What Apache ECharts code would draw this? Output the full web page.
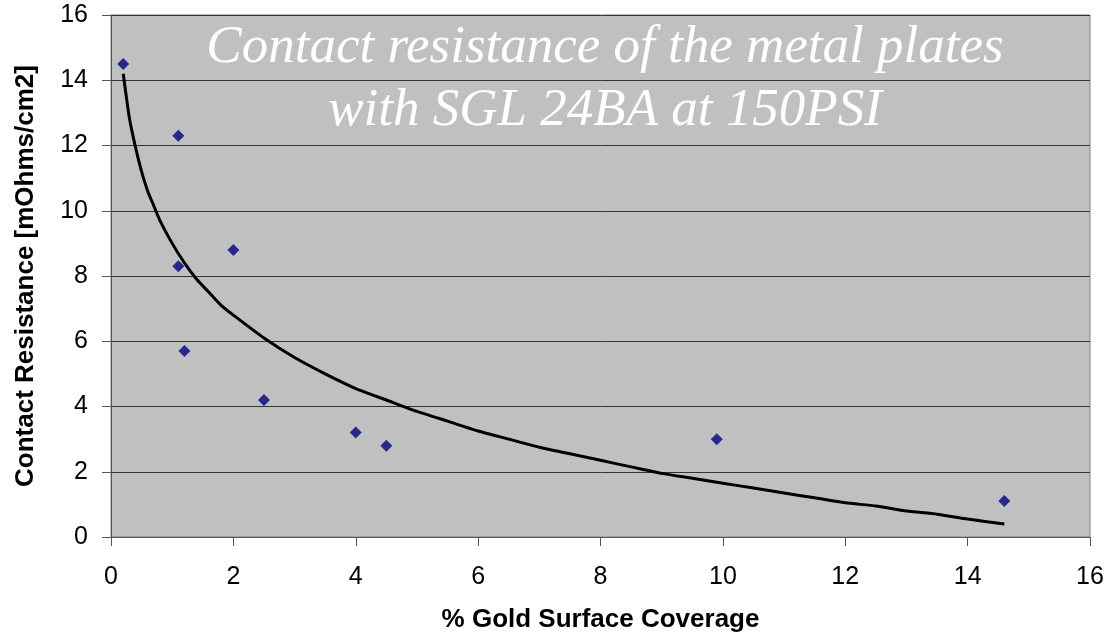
<!DOCTYPE html>
<html>
<head>
<meta charset="utf-8">
<script src="https://cdn.jsdelivr.net/npm/echarts@6/dist/echarts.min.js"></script>
<style>
  html, body { margin: 0; padding: 0; background: #fff; }
  #chart { width: 1115px; height: 638px; }
</style>
</head>
<body>
<div id="chart"></div>
<script>
// Measured contact resistance vs. gold surface coverage
const coverage = [0.2, 1.1, 1.1, 2.0, 1.2, 2.5, 4.0, 4.5, 9.9, 14.6];
const resistance = [14.5, 12.3, 8.3, 8.8, 5.7, 4.2, 3.2, 2.8, 3.0, 1.1];

// Trend curve, sampled along its length
const trendX = [0.2, 0.3, 0.4, 0.5, 0.6, 0.7, 0.8, 1.0, 1.2, 1.4, 1.6, 1.8, 2.0, 2.5, 3.0, 3.5, 4.0, 4.5, 5.0, 5.5, 6.0, 6.5, 7.0, 7.5, 8.0, 8.5, 9.0, 9.5, 10.0, 10.5, 11.0, 11.5, 12.0, 12.5, 13.0, 13.5, 14.0, 14.6];
const trendY = [14.2, 12.85, 11.95, 11.2, 10.6, 10.15, 9.7, 9.0, 8.4, 7.9, 7.5, 7.1, 6.8, 6.1, 5.5, 5.0, 4.55, 4.2, 3.85, 3.55, 3.25, 3.0, 2.75, 2.55, 2.35, 2.15, 1.95, 1.8, 1.65, 1.5, 1.35, 1.2, 1.05, 0.95, 0.8, 0.7, 0.55, 0.4];

const titleLines = ['Contact resistance of the metal plates', 'with SGL 24BA at 150PSI'];
const xName = '% Gold Surface Coverage';
const yName = 'Contact Resistance [mOhms/cm2]';

const chart = echarts.init(document.getElementById('chart'), null, { renderer: 'canvas' });

const axisCommon = {
  min: 0, max: 16, interval: 2,
  axisLine: { show: true, lineStyle: { color: '#555', width: 1 } },
  axisTick: { show: true, inside: false, length: 9, lineStyle: { color: '#555' } },
  axisLabel: { color: '#000', fontFamily: 'Liberation Sans, Arial, sans-serif', fontSize: 25 },
  nameTextStyle: { color: '#000', fontFamily: 'Liberation Sans, Arial, sans-serif', fontSize: 26, fontWeight: 'bold' }
};

chart.setOption({
  animation: false,
  grid: { left: 111, right: 25, top: 15, bottom: 99, show: true, backgroundColor: '#c0c0c0', borderColor: '#808080', borderWidth: 1 },
  title: {
    text: titleLines.join('\n'),
    left: 600, top: 12, textAlign: 'center',
    textStyle: { color: '#fff', fontFamily: 'Liberation Serif, Times New Roman, serif', fontStyle: 'italic', fontWeight: 'normal', fontSize: 53, lineHeight: 63 }
  },
  xAxis: Object.assign({}, axisCommon, {
    type: 'value',
    name: xName, nameLocation: 'middle', nameGap: 70,
    splitLine: { show: false },
    axisLabel: Object.assign({}, axisCommon.axisLabel, { margin: 28 })
  }),
  yAxis: Object.assign({}, axisCommon, {
    type: 'value',
    name: yName, nameLocation: 'middle', nameGap: 72,
    splitLine: { show: true, lineStyle: { color: '#333', width: 1 } },
    axisLabel: Object.assign({}, axisCommon.axisLabel, { margin: 23 })
  }),
  series: [
    {
      type: 'line',
      data: trendX.map((x, i) => [x, trendY[i]]),
      smooth: 0.2,
      showSymbol: false,
      lineStyle: { color: '#000', width: 3 },
      z: 2
    },
    {
      type: 'scatter',
      data: coverage.map((x, i) => [x, resistance[i]]),
      symbol: 'diamond',
      symbolSize: 12,
      itemStyle: { color: '#000080' },
      z: 3
    }
  ]
});
</script>
</body>
</html>
